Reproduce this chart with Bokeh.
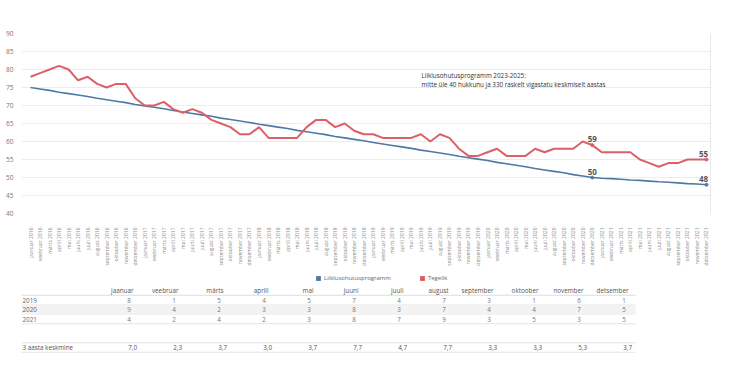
from bokeh.plotting import figure
from bokeh.models import Range1d, FixedTicker, Label, Legend, LegendItem, ColumnDataSource, Span
from bokeh.layouts import column
from bokeh.embed import file_html
from bokeh.resources import INLINE
from bokeh.core.properties import value
import math

# ---------------- data ----------------
month_names = ["jaanuar", "veebruar", "märts", "aprill", "mai", "juuni",
               "juuli", "august", "september", "oktoober", "november", "detsember"]
years = [2016, 2017, 2018, 2019, 2020, 2021]
period_labels = [f"{m} {y}" for y in years for m in month_names]

tegelik = [78, 79, 80, 81, 80, 77, 78, 76, 75, 76, 76, 72,
           70, 70, 71, 69, 68, 69, 68, 66, 65, 64, 62, 62,
           64, 61, 61, 61, 61, 64, 66, 66, 64, 65, 63, 62,
           62, 61, 61, 61, 61, 62, 60, 62, 61, 58, 56, 56,
           57, 58, 56, 56, 56, 58, 57, 58, 58, 58, 60, 59,
           57, 57, 57, 57, 55, 54, 53, 54, 54, 55, 55, 55]

programm = [75.0, 74.6, 74.2, 73.7, 73.3, 72.9, 72.5, 72.0, 71.6, 71.2, 70.8, 70.3,
            69.9, 69.5, 69.1, 68.6, 68.2, 67.8, 67.4, 67.0, 66.5, 66.1, 65.7, 65.3,
            64.8, 64.4, 64.0, 63.6, 63.1, 62.7, 62.3, 61.9, 61.4, 61.0, 60.6, 60.2,
            59.7, 59.3, 58.9, 58.5, 58.1, 57.6, 57.2, 56.8, 56.4, 55.9, 55.5, 55.1,
            54.7, 54.2, 53.8, 53.4, 53.0, 52.5, 52.1, 51.7, 51.3, 50.8, 50.4, 50.0,
            49.8, 49.7, 49.5, 49.3, 49.2, 49.0, 48.8, 48.7, 48.5, 48.3, 48.2, 48.0]

y_ticks = [40, 45, 50, 55, 60, 65, 70, 75, 80, 85, 90]
labelled_periods = [59, 71]   # indexes of periods with value labels

series_names = ["Liiklusohutusprogramm", "Tegelik"]
annotation_lines = ["Liiklusohutusprogramm 2023-2025:",
                    "mitte üle 40 hukkunu ja 330 raskelt vigastatu keskmiselt aastas"]

table_years = ["2019", "2020", "2021"]
table_2019 = [8, 1, 5, 4, 5, 7, 4, 7, 3, 1, 6, 1]
table_2020 = [9, 4, 2, 3, 3, 8, 3, 7, 4, 4, 7, 5]
table_2021 = [4, 2, 4, 2, 3, 8, 7, 9, 3, 5, 3, 5]
avg_label = "3 aasta keskmine"
avg_values = [7.0, 2.3, 3.7, 3.0, 3.7, 7.7, 4.7, 7.7, 3.3, 3.3, 5.3, 3.7]

# ---------------- style / layout ----------------
FONT = "Open Sans"
BLUE = "#4e79a7"
RED = "#e15759"
RED_LINE = "#dc6068"
W = 750
TOP_H = 268
TAB_H = 120
FRAME_L, FRAME_R = 21, 711        # page x of plot frame edges (shared by both figures)
FRAME_T, FRAME_B = 33, 216        # page y of chart frame (value 90 / value 40)
X0_PAGE, DX = 30.0, 9.521         # page x of first period and period spacing

# ---------------- main chart ----------------
idx = list(range(len(period_labels)))
p = figure(width=W, height=TOP_H, output_backend="svg", toolbar_location=None,
           x_range=Range1d((FRAME_L - X0_PAGE) / DX, (FRAME_R - X0_PAGE) / DX),
           y_range=Range1d(min(y_ticks), max(y_ticks)),
           min_border_left=FRAME_L, min_border_right=W - FRAME_R,
           min_border_top=FRAME_T, min_border_bottom=TOP_H - FRAME_B)
p.outline_line_color = None

# light right border of the chart area (drawn beneath the data)
p.add_layout(Span(location=(FRAME_R - 1 - X0_PAGE) / DX, dimension="height",
                  line_color="#e8e8e8", line_width=1, level="underlay"))

p.line(idx, programm, line_color=BLUE, line_width=1.6)
p.line(idx, tegelik, line_color=RED_LINE, line_width=2)

n_lab = len(labelled_periods)
lab_src = ColumnDataSource(dict(
    x=labelled_periods + labelled_periods,
    y=[tegelik[i] for i in labelled_periods] + [programm[i] for i in labelled_periods],
    t=[str(tegelik[i]) for i in labelled_periods] + [str(round(programm[i])) for i in labelled_periods],
    c=[RED_LINE] * n_lab + [BLUE] * n_lab,
    xo=[0 if i < idx[-1] else -3 for i in labelled_periods] * 2))
p.scatter("x", "y", source=lab_src, size=3, color="c")
p.text("x", "y", text="t", source=lab_src, text_align="center", text_baseline="bottom",
       x_offset="xo", y_offset=-3, text_font_size="8px", text_font_style="bold",
       text_color="#555555", text_font=value(FONT))

# annotation
ann_x = (421 - X0_PAGE) / DX
for line_txt, yv in zip(annotation_lines, [78.4, 75.9]):
    p.add_layout(Label(x=ann_x, y=yv, text=line_txt, text_font=FONT,
                       text_font_size="6.3px", text_color="#333333", text_baseline="middle"))

# axes
p.xaxis.ticker = FixedTicker(ticks=idx)
p.xaxis.major_label_overrides = {i: lab for i, lab in zip(idx, period_labels)}
p.xaxis.major_label_orientation = math.pi / 2
p.xaxis.major_label_text_font = FONT
p.xaxis.major_label_text_font_size = "5px"
p.xaxis.major_label_text_color = "#8a8a8a"
p.xaxis.major_label_standoff = 8
p.xaxis.axis_line_color = None
p.xaxis.major_tick_line_color = None
p.xaxis.minor_tick_line_color = None

p.yaxis.ticker = FixedTicker(ticks=y_ticks)
p.yaxis.major_label_text_font = FONT
p.yaxis.major_label_text_font_size = "6.5px"
p.yaxis.major_label_text_color = "#777777"
p.yaxis.major_label_standoff = 2
p.yaxis.axis_line_color = None
p.yaxis.major_tick_line_color = None
p.yaxis.minor_tick_line_color = None

p.xgrid.visible = False
p.ygrid.ticker = FixedTicker(ticks=y_ticks)
p.ygrid.grid_line_color = "#ececec"

# ---------------- table figure ----------------
COL_W = 45.0
def tx(page_x):          # month column k has right edge at page x 133 + 45*(k-1)
    return 1 + (page_x - 133) / COL_W
ROW_H = 9.5
def ty(page_y):          # header row at page y 290, one row per 9.5 px
    return (page_y - 290) / ROW_H

t = figure(width=W, height=TAB_H, output_backend="svg", toolbar_location=None,
           x_range=Range1d(tx(FRAME_L), tx(FRAME_R)),
           y_range=Range1d(ty(TOP_H + TAB_H), ty(TOP_H)),
           x_axis_type=None, y_axis_type=None,
           min_border_left=FRAME_L, min_border_right=W - FRAME_R,
           min_border_top=0, min_border_bottom=0)
t.outline_line_color = None
t.grid.visible = False

cols = list(range(1, len(month_names) + 1))
rows_vals = [table_2019, table_2020, table_2021]
row_pos = [1, 2, 3]
avg_pos = 6
TF = value(FONT)
TS = "6.3px"

t.quad(left=[tx(20)], right=[tx(635)], top=[row_pos[1] - 0.5], bottom=[row_pos[1] + 0.5],
       fill_color="#f3f3f3", line_color=None)
line_ys = [0.5] + [r + 0.5 for r in row_pos] + [avg_pos - 0.5, avg_pos + 0.5]
line_cols = ["#dddddd", "#eeeeee", "#eeeeee", "#e4e4e4", "#e4e4e4", "#e4e4e4"]
t.segment(x0=[tx(20)] * len(line_ys), x1=[tx(635)] * len(line_ys), y0=line_ys, y1=line_ys,
          line_color=line_cols, line_width=1)

t.text(x=cols, y=[0] * len(cols), text=month_names, text_align="right", text_baseline="middle",
       text_font=TF, text_font_size=TS, text_color="#555555")
for yl, vals, yp in zip(table_years, rows_vals, row_pos):
    t.text(x=[tx(22)], y=[yp], text=[yl], text_align="left", text_baseline="middle",
           text_font=TF, text_font_size=TS, text_color="#666666")
    t.text(x=[c - 0.06 for c in cols], y=[yp] * len(cols), text=[str(v) for v in vals],
           text_align="right", text_baseline="middle",
           text_font=TF, text_font_size=TS, text_color="#777777")
t.text(x=[tx(22)], y=[avg_pos], text=[avg_label], text_align="left", text_baseline="middle",
       text_font=TF, text_font_size=TS, text_color="#555555")
t.text(x=[c + 0.08 for c in cols], y=[avg_pos] * len(cols),
       text=[f"{v:.1f}".replace(".", ",") for v in avg_values],
       text_align="right", text_baseline="middle",
       text_font=TF, text_font_size=TS, text_color="#555555")

# legend (square swatches)
nan = float("nan")
r_blue = t.quad(left=[nan], right=[nan], top=[nan], bottom=[nan], fill_color=BLUE, line_color=None)
r_red = t.quad(left=[nan], right=[nan], top=[nan], bottom=[nan], fill_color=RED, line_color=None)
legend = Legend(items=[LegendItem(label=series_names[0], renderers=[r_blue]),
                       LegendItem(label=series_names[1], renderers=[r_red])],
                orientation="horizontal", location=(315 - FRAME_L, TAB_H - 13.5),
                glyph_width=6, glyph_height=6, label_height=6, label_standoff=3,
                spacing=28, padding=0, margin=0, border_line_color=None,
                background_fill_alpha=0,
                label_text_font=FONT, label_text_font_size="6px", label_text_color="#666666")
t.add_layout(legend)

layout = column(p, t, spacing=0)
open("out.html", "w").write(file_html(layout, INLINE))
